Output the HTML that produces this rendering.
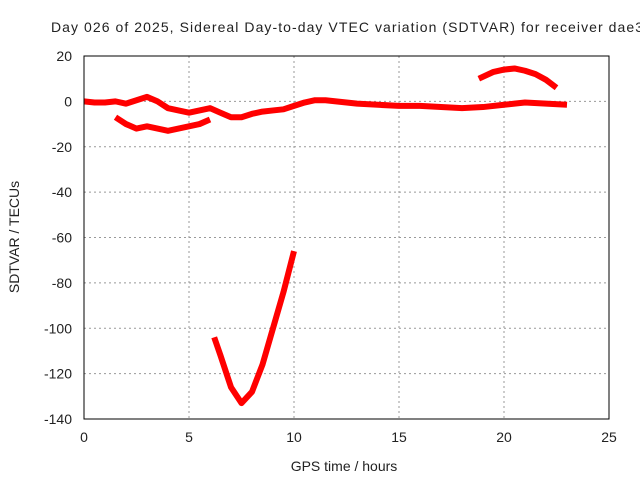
<!DOCTYPE html>
<html><head><meta charset="utf-8"><style>
body{margin:0;background:#fff}
svg text{font-family:"Liberation Sans",sans-serif;font-size:14px;fill:#222}
</style></head><body>
<svg id="c" width="640" height="480">
<text x="51" y="32" textLength="592" lengthAdjust="spacing">Day 026 of 2025, Sidereal Day-to-day VTEC variation (SDTVAR) for receiver dae3</text>
<text x="344" y="471" text-anchor="middle">GPS time / hours</text>
<text transform="translate(19,237) rotate(-90)" text-anchor="middle">SDTVAR / TECUs</text>
<g id="grid"></g><g id="ticks"></g><g id="series"></g>
<rect x="84" y="56" width="525" height="363" fill="none" stroke="#000"/>
</svg>
<script>
const xTicks=[0,5,10,15,20,25];
const yTicks=[20,0,-20,-40,-60,-80,-100,-120,-140];
const mainX=[0,0.5,1,1.5,2,2.5,3,3.5,4,4.5,5,5.5,6,6.5,7,7.5,8,8.5,9,9.5,10,10.5,11,11.5,12,13,14,15,16,17,18,19,20,20.5,21,22,23];
const mainY=[0,-0.5,-0.5,0,-1,0.5,2,0,-3,-4,-5,-4,-3,-5,-7,-7,-5.5,-4.5,-4,-3.5,-2,-0.5,0.5,0.5,0,-1,-1.5,-2,-2,-2.5,-3,-2.5,-1.5,-1,-0.5,-1,-1.5];
const lowX=[1.5,2,2.5,3,3.5,4,4.5,5,5.5,6];
const lowY=[-7,-10,-12,-11,-12,-13,-12,-11,-10,-8];
const arcX=[18.8,19.5,20,20.5,21,21.5,22,22.5];
const arcY=[10,13,14,14.5,13.5,12,9.5,6];
const dipX=[6.2,6.5,7,7.5,8,8.5,9,9.5,10];
const dipY=[-104,-112,-126,-133,-128,-116,-100,-84,-66];
const NS="http://www.w3.org/2000/svg";
const X=v=>84+v*21, Y=v=>56+(20-v)*363/160;
function mk(t,a,p){const e=document.createElementNS(NS,t);for(const k in a)e.setAttribute(k,a[k]);p.appendChild(e);return e;}
const g=document.getElementById('grid'),tk=document.getElementById('ticks'),s=document.getElementById('series');
xTicks.forEach(v=>{
 if(v>0&&v<25){const l=mk('line',{x1:X(v),x2:X(v),y1:56,y2:419,stroke:'#999','stroke-dasharray':'2,3'},g);
 
 }
 const t=mk('text',{x:X(v),y:442,'text-anchor':'middle'},tk);t.textContent=v;
 
 
});
yTicks.forEach(v=>{
 if(v<20&&v>-140){const l=mk('line',{x1:84,x2:609,y1:Y(v),y2:Y(v),stroke:'#999','stroke-dasharray':'2,3'},g);
 
 }
 const t=mk('text',{x:72,y:Y(v)+5,'text-anchor':'end'},tk);t.textContent=v;
 
 
});
[[mainX,mainY,'main-series'],[lowX,lowY,'lower-branch'],[arcX,arcY,'upper-arc'],[dipX,dipY,'deep-dip']].forEach(([xs,ys,n])=>{
 const p=mk('polyline',{points:xs.map((x,i)=>X(x)+','+Y(ys[i])).join(' '),fill:'none',stroke:'#f00','stroke-width':6,'stroke-linejoin':'round'},s);
 
 
});
</script>
</body></html>
